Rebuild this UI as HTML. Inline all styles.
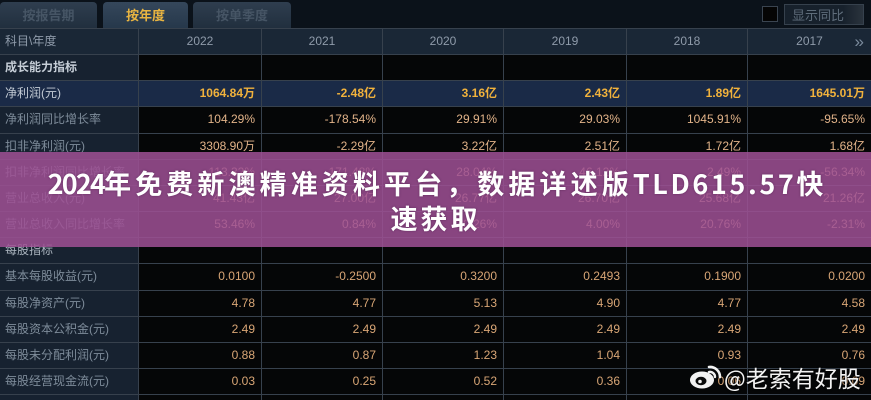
<!DOCTYPE html>
<html><head><meta charset="utf-8"><style>
*{margin:0;padding:0;box-sizing:border-box}
html,body{width:871px;height:400px;overflow:hidden;background:#0b121a}
body{position:relative;font-family:"Liberation Sans","Noto Sans CJK SC",sans-serif}
.tab{position:absolute;top:2px;height:26px;border-radius:4px 4px 0 0;background:linear-gradient(#2f3e4f,#212f3e);font:bold 13px "Noto Sans CJK SC",sans-serif;color:#465565;text-align:center;line-height:26px}
.tab.on{background:linear-gradient(#35475b,#26384b);color:#e8b441}
.row{position:absolute;left:0;width:871px;height:27px;display:flex;border-top:1px solid #37414d}
.c{height:100%;border-right:1px solid #37414d;font-size:12px;line-height:25px;text-align:right;padding-right:6px;color:#e2b389;background:#050607;white-space:nowrap}
.c:last-child{border-right:none}
.l{width:139px;text-align:left;padding-left:5px;color:#7e8c9a;background:#172230;font-family:"Liberation Sans","Noto Sans CJK SC",sans-serif}
.w1{width:123px}.w2{width:121px}
.hd .c{background:#1a2736;color:#8f9baa;text-align:center;padding-right:0}
.hd .l{text-align:left;padding-left:5px}
.sec .l{color:#c6ced7;font-weight:bold}
.np .c{background:#1a2a47;color:#f1b23c;font-weight:bold}
.np .l{color:#c3cbd5;font-weight:normal}
.lo .c{color:#d9a676}
.lo .l{color:#7e8c9a}
#banner{position:absolute;left:0;top:152px;width:871px;height:95px;background:rgba(158,80,148,0.86);display:flex;flex-direction:column;align-items:center;justify-content:center;font-family:"Noto Sans CJK SC",sans-serif;font-weight:bold;color:#fff;font-size:27px;line-height:35px;text-shadow:0 0 2px rgba(60,20,60,0.5)}
#banner .ln{white-space:nowrap}
.cj{letter-spacing:4.1px}
.la{letter-spacing:2.6px}
.dg{letter-spacing:-1.8px}
</style></head><body>
<div class="tab" style="left:0;width:97px">按报告期</div>
<div class="tab on" style="left:103px;width:85px">按年度</div>
<div class="tab" style="left:193px;width:98px">按单季度</div>
<div style="position:absolute;left:762px;top:6px;width:16px;height:16px;background:#050505;border:1px solid #3a4450"></div>
<div style="position:absolute;left:784px;top:4px;width:80px;height:21px;border:1px solid #36414d;background:linear-gradient(90deg,#17212c 75%,#2a333d);color:#5f6d7b;font:13px 'Noto Sans CJK SC',sans-serif;line-height:19px;padding-left:7px">显示同比</div>

<div class="row hd" style="top:28px"><div class="c l">科目\年度</div><div class="c w1">2022</div><div class="c w2">2021</div><div class="c w2">2020</div><div class="c w1">2019</div><div class="c w2">2018</div><div class="c w1" style="position:relative">2017<span style="position:absolute;right:7px;top:0;color:#7a8a9c;font-size:17px">»</span></div></div>
<div class="row sec" style="top:54px"><div class="c l">成长能力指标</div><div class="c w1"></div><div class="c w2"></div><div class="c w2"></div><div class="c w1"></div><div class="c w2"></div><div class="c w1"></div></div>
<div class="row np" style="top:80px"><div class="c l">净利润(元)</div><div class="c w1">1064.84万</div><div class="c w2">-2.48亿</div><div class="c w2">3.16亿</div><div class="c w1">2.43亿</div><div class="c w2">1.89亿</div><div class="c w1">1645.01万</div></div>
<div class="row" style="top:106px"><div class="c l">净利润同比增长率</div><div class="c w1">104.29%</div><div class="c w2">-178.54%</div><div class="c w2">29.91%</div><div class="c w1">29.03%</div><div class="c w2">1045.91%</div><div class="c w1">-95.65%</div></div>
<div class="row" style="top:133px"><div class="c l">扣非净利润(元)</div><div class="c w1">3308.90万</div><div class="c w2">-2.29亿</div><div class="c w2">3.22亿</div><div class="c w1">2.51亿</div><div class="c w2">1.72亿</div><div class="c w1">1.68亿</div></div>
<div class="row" style="top:159px"><div class="c l">扣非净利润同比增长率</div><div class="c w1">113.32%</div><div class="c w2">-171.48%</div><div class="c w2">28.04%</div><div class="c w1">46.12%</div><div class="c w2">2.49%</div><div class="c w1">-56.34%</div></div>
<div class="row" style="top:185px"><div class="c l">营业总收入(元)</div><div class="c w1">41.43亿</div><div class="c w2">27.00亿</div><div class="c w2">26.77亿</div><div class="c w1">26.70亿</div><div class="c w2">25.68亿</div><div class="c w1">21.26亿</div></div>
<div class="row" style="top:211px"><div class="c l">营业总收入同比增长率</div><div class="c w1">53.46%</div><div class="c w2">0.84%</div><div class="c w2">0.26%</div><div class="c w1">4.00%</div><div class="c w2">20.76%</div><div class="c w1">-2.31%</div></div>
<div class="row sec" style="top:237px"><div class="c l" style="font-weight:normal;color:#aab4be">每股指标</div><div class="c w1"></div><div class="c w2"></div><div class="c w2"></div><div class="c w1"></div><div class="c w2"></div><div class="c w1"></div></div>
<div class="row lo" style="top:263px"><div class="c l">基本每股收益(元)</div><div class="c w1">0.0100</div><div class="c w2">-0.2500</div><div class="c w2">0.3200</div><div class="c w1">0.2493</div><div class="c w2">0.1900</div><div class="c w1">0.0200</div></div>
<div class="row lo" style="top:290px"><div class="c l">每股净资产(元)</div><div class="c w1">4.78</div><div class="c w2">4.77</div><div class="c w2">5.13</div><div class="c w1">4.90</div><div class="c w2">4.77</div><div class="c w1">4.58</div></div>
<div class="row lo" style="top:316px"><div class="c l">每股资本公积金(元)</div><div class="c w1">2.49</div><div class="c w2">2.49</div><div class="c w2">2.49</div><div class="c w1">2.49</div><div class="c w2">2.49</div><div class="c w1">2.49</div></div>
<div class="row lo" style="top:342px"><div class="c l">每股未分配利润(元)</div><div class="c w1">0.88</div><div class="c w2">0.87</div><div class="c w2">1.23</div><div class="c w1">1.04</div><div class="c w2">0.93</div><div class="c w1">0.76</div></div>
<div class="row lo" style="top:368px"><div class="c l">每股经营现金流(元)</div><div class="c w1">0.03</div><div class="c w2">0.25</div><div class="c w2">0.52</div><div class="c w1">0.36</div><div class="c w2">0.06</div><div class="c w1">0.09</div></div>
<div class="row lo" style="top:394px;height:6px"><div class="c l"></div><div class="c w1"></div><div class="c w2"></div><div class="c w2"></div><div class="c w1"></div><div class="c w2"></div><div class="c w1"></div></div>

<div id="banner">
<div class="ln"><span class="dg">2024</span><span class="cj">年免费新澳精准资料平台，数据详述版</span><span class="la">TLD615.57</span>快</div>
<div class="ln"><span class="cj" style="letter-spacing:3px">速获取</span></div>
</div>

<svg style="position:absolute;left:689px;top:364px" width="34" height="26" viewBox="0 0 34 26">
<ellipse cx="13" cy="16" rx="12" ry="8.5" fill="#f2f2f2"/>
<ellipse cx="12" cy="17" rx="5.5" ry="4.2" fill="#0b0b0b"/>
<circle cx="11" cy="17.5" r="1.8" fill="#f2f2f2"/>
<path d="M20 3 A10 10 0 0 1 31 13" stroke="#f2f2f2" stroke-width="2.6" fill="none" stroke-linecap="round"/>
<path d="M20 8 A5 5 0 0 1 26 13" stroke="#f2f2f2" stroke-width="2.4" fill="none" stroke-linecap="round"/>
</svg>
<div style="position:absolute;left:724px;top:362px;font:23px 'Noto Sans CJK SC',sans-serif;color:#f2f2f2;line-height:30px;white-space:nowrap;text-shadow:0 0 2px #000">@老索有好股</div>
</body></html>
